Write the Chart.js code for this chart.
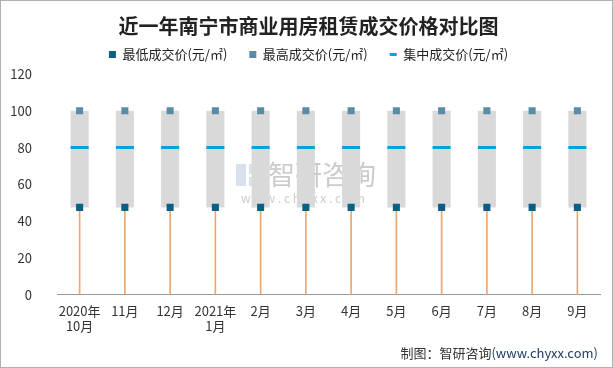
<!DOCTYPE html>
<html>
<head>
<meta charset="utf-8">
<script src="https://cdn.jsdelivr.net/npm/chart.js@4/dist/chart.umd.min.js"></script>
<style>
  html, body { margin: 0; padding: 0; background: #fff; }
  #wrap { position: relative; width: 613px; height: 368px; box-sizing: border-box; border: 1px solid #b0b0b0; }
  #footer { position: absolute; right: 14px; top: 342px; font: 13px "Noto Sans CJK SC", sans-serif; color: #333; }
  #footer span { color: #1f3d66; }
</style>
</head>
<body>
<div id="wrap">
  <canvas id="myChart" width="611" height="366"></canvas>
  <div id="footer">制图：智研咨询<span>(www.chyxx.com)</span></div>
</div>
<script>
const labels = [['2020年', '10月'], '11月', '12月', ['2021年', '1月'], '2月', '3月', '4月', '5月', '6月', '7月', '8月', '9月'];
const lowPrice = [47.5, 47.5, 47.5, 47.5, 47.5, 47.5, 47.5, 47.5, 47.5, 47.5, 47.5, 47.5];
const highPrice = [100, 100, 100, 100, 100, 100, 100, 100, 100, 100, 100, 100];
const midPrice = [80, 80, 80, 80, 80, 80, 80, 80, 80, 80, 80, 80];

const fontFam = '"Noto Sans CJK SC", "DejaVu Sans", sans-serif';

// watermark in the middle of the plot
const watermark = {
    id: 'watermark',
    beforeDatasetsDraw(chart) {
        const c = chart.ctx;
        c.save();
        c.globalAlpha = 0.55;
        c.fillStyle = '#b8c8dc';
        c.fillRect(235, 163, 10, 22);
        c.fillRect(248, 163, 12, 10);
        c.fillRect(248, 176, 12, 9);
        c.fillStyle = '#a0a0a0';
        c.font = '27px ' + fontFam;
        c.textBaseline = 'middle';
        c.fillText('智研咨询', 267, 174);
        c.font = '12px ' + fontFam;
        c.fillText('w w w . c h y x x . c o m', 240, 197);
        c.restore();
    }
};

// a little extra room under the legend
const legendGap = {
    id: 'legendGap',
    beforeInit(chart) {
        const fit = chart.legend.fit;
        chart.legend.fit = function () {
            fit.bind(chart.legend)();
            this.height += 3;
        };
    }
};

const ctx = document.getElementById('myChart');
const myChart = new Chart(ctx, {
    type: 'bar',
    data: {
        labels: labels,
        datasets: [
            {
                type: 'line',
                label: '最低成交价(元/㎡)',
                data: lowPrice,
                showLine: false,
                pointStyle: 'rect',
                pointRadius: 5,
                pointBorderWidth: 0,
                backgroundColor: '#0b5e84',
                borderColor: '#0b5e84',
                order: 1
            },
            {
                type: 'line',
                label: '最高成交价(元/㎡)',
                data: highPrice,
                showLine: false,
                pointStyle: 'rect',
                pointRadius: 5,
                pointBorderWidth: 0,
                backgroundColor: '#5b8ba6',
                borderColor: '#5b8ba6',
                order: 2
            },
            {
                type: 'line',
                label: '集中成交价(元/㎡)',
                data: midPrice,
                showLine: false,
                pointStyle: 'line',
                pointRadius: 9,
                pointBorderWidth: 3,
                backgroundColor: '#00a3e0',
                borderColor: '#00a3e0',
                order: 3
            },
            {
                label: 'drop',
                data: lowPrice.map(v => [0, v]),
                backgroundColor: '#f0a66a',
                barThickness: 1,
                grouped: false,
                order: 4
            },
            {
                label: 'range',
                data: lowPrice.map((v, i) => [v, highPrice[i]]),
                backgroundColor: '#d9d9d9',
                barPercentage: 0.4,
                categoryPercentage: 1,
                grouped: false,
                order: 5
            }
        ]
    },
    options: {
        responsive: false,
        animation: false,
        layout: {
            padding: { left: 10, right: 6, top: 0, bottom: 33 }
        },
        plugins: {
            title: {
                display: true,
                text: '近一年南宁市商业用房租赁成交价格对比图',
                color: '#222',
                font: { size: 20, weight: 'bold', family: fontFam },
                padding: { top: 13, bottom: -12 }
            },
            legend: {
                display: true,
                labels: {
                    filter: item => item.datasetIndex < 3,
                    usePointStyle: true,
                    pointStyleWidth: 7,
                    boxHeight: 7,
                    color: '#222',
                    font: { size: 13, family: fontFam },
                    padding: 22
                }
            },
            tooltip: { enabled: false }
        },
        scales: {
            y: {
                min: 0,
                max: 120,
                afterFit: scale => { scale.width = 46; },
                ticks: {
                    stepSize: 20,
                    color: '#333',
                    font: { size: 13, family: fontFam },
                    padding: 17
                },
                grid: { display: false },
                border: { display: false }
            },
            x: {
                grid: { display: false },
                border: { display: true, color: '#999', width: 1 },
                ticks: {
                    color: '#333',
                    font: { size: 13, family: fontFam },
                    maxRotation: 0,
                    autoSkip: false,
                    padding: 0
                }
            }
        }
    },
    plugins: [watermark, legendGap]
});
</script>
</body>
</html>
